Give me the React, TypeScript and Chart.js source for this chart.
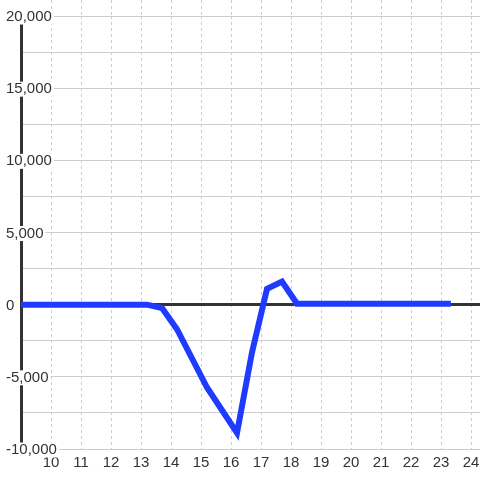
import { useEffect, useRef } from "react";
import { Chart, registerables } from "chart.js";

Chart.register(...registerables);

// Data (hour of day vs value)
const hours = [9.0, 13.2, 13.7, 14.2, 15.2, 16.2, 16.7, 17.2, 17.7, 18.2, 23.33];
const values = [0, 0, -230, -1700, -5740, -8890, -3300, 1100, 1600, 60, 60];

// Axis ticks
const xTickValues = [10, 11, 12, 13, 14, 15, 16, 17, 18, 19, 20, 21, 22, 23, 24];
const yTickValues = [-10000, -7500, -5000, -2500, 0, 2500, 5000, 7500, 10000, 12500, 15000, 17500, 20000];
const yTickLabels = ["-10,000", "", "-5,000", "", "0", "", "5,000", "", "10,000", "", "15,000", "", "20,000"];

const FONT = { family: "'Liberation Sans', Arial, sans-serif", size: 15, lineHeight: 1 };
const TEXT = "#333333";
const GRID = "#cccccc";
const DARK = "#333333";
const LINE = "#1f3bff";

const noSidePadding = (axis: any) => {
  axis.paddingLeft = 0;
  axis.paddingRight = 0;
};

export default function App() {
  const ref = useRef<HTMLCanvasElement>(null);

  useEffect(() => {
    if (!ref.current) return;
    const chart = new Chart(ref.current, {
      type: "line",
      data: {
        datasets: [
          {
            data: hours.map((x, i) => ({ x, y: values[i] })),
            borderColor: LINE,
            borderWidth: 6,
            pointRadius: 0,
            tension: 0,
            fill: false,
            borderJoinStyle: "miter",
          },
        ],
      },
      options: {
        animation: false,
        responsive: false,
        devicePixelRatio: 1,
        layout: { padding: { left: 21, top: 0, right: 0, bottom: 4 } },
        plugins: { legend: { display: false }, tooltip: { enabled: false } },
        scales: {
          x: {
            type: "linear",
            position: "bottom",
            min: 9,
            max: 24.3,
            afterBuildTicks: (axis: any) => {
              axis.ticks = xTickValues.map((v) => ({ value: v }));
            },
            afterFit: noSidePadding,
            grid: { color: GRID, lineWidth: 1, drawTicks: false },
            border: { display: false, dash: [3, 3] },
            ticks: {
              font: FONT,
              color: TEXT,
              padding: 6,
              maxRotation: 0,
              autoSkip: false,
              callback: (v: any) => String(v),
            },
          },
          x2: {
            type: "linear",
            position: "top",
            min: 9,
            max: 24.3,
            afterBuildTicks: (axis: any) => {
              axis.ticks = xTickValues.map((v) => ({ value: v }));
            },
            afterFit: noSidePadding,
            grid: {
              drawOnChartArea: false,
              drawTicks: true,
              tickLength: 16,
              tickColor: GRID,
              tickWidth: 1,
              tickBorderDash: [3, 3],
            },
            border: { display: false },
            ticks: { display: false },
          },
          y: {
            type: "linear",
            position: "left",
            min: -10000,
            max: 20000,
            afterBuildTicks: (axis: any) => {
              axis.ticks = yTickValues.map((v) => ({ value: v }));
            },
            afterFit: (axis: any) => {
              axis.width = 0;
              axis.paddingTop = 0;
              axis.paddingBottom = 0;
            },
            grid: {
              color: (ctx: any) => (ctx.tick && ctx.tick.value === 0 ? DARK : GRID),
              lineWidth: (ctx: any) => (ctx.tick && ctx.tick.value === 0 ? 3 : 1),
              drawTicks: false,
            },
            border: { display: true, color: DARK, width: 3 },
            ticks: {
              mirror: true,
              crossAlign: "near",
              padding: -15,
              labelOffset: 1,
              font: FONT,
              color: TEXT,
              autoSkip: false,
              showLabelBackdrop: true,
              backdropColor: "#ffffff",
              backdropPadding: { left: 1, right: 2, top: 0, bottom: 0 },
              callback: (_v: any, i: number) => yTickLabels[i],
            },
          },
        },
      } as any,
    });
    return () => chart.destroy();
  }, []);

  return (
    <div style={{ position: "absolute", left: 0, top: 0, width: 480, height: 480, background: "#ffffff" }}>
      <canvas ref={ref} width={480} height={480} style={{ display: "block" }} />
    </div>
  );
}
